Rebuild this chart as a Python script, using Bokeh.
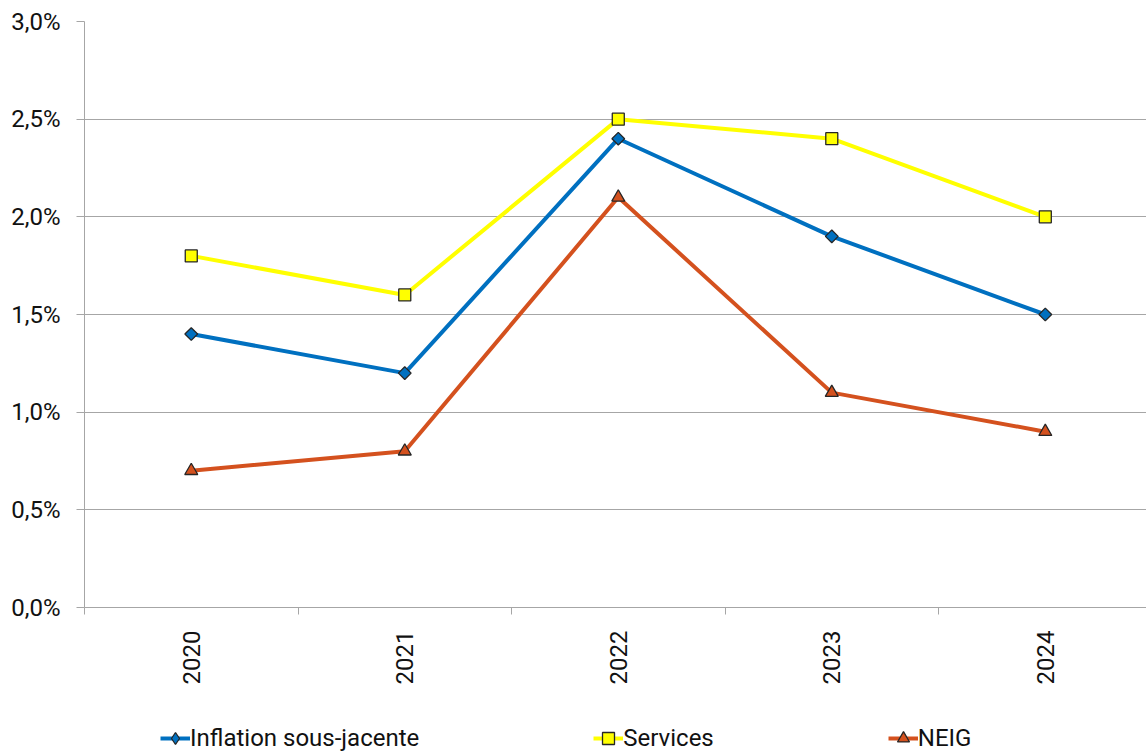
import numpy as np
from bokeh.plotting import figure
from bokeh.layouts import column
from bokeh.models import (FixedTicker, CustomJSTickFormatter, Legend, LegendItem, Range1d)
from bokeh.embed import file_html
from bokeh.resources import INLINE

years = ["2020", "2021", "2022", "2023", "2024"]
inflation = [1.4, 1.2, 2.4, 1.9, 1.5]
services = [1.8, 1.6, 2.5, 2.4, 2.0]
neig = [0.7, 0.8, 2.1, 1.1, 0.9]
y_ticks = [0.0, 0.5, 1.0, 1.5, 2.0, 2.5, 3.0]
series_names = ["Inflation sous-jacente", "Services", "NEIG"]

xs = list(range(len(years)))

W = 1146
LEG_H = 43
MAIN_H = 753 - LEG_H
FRAME_LEFT = 84

p = figure(width=W, height=MAIN_H, output_backend="svg", toolbar_location=None,
           x_range=Range1d(-0.5, 4.474), y_range=Range1d(0, 3.0),
           min_border_left=FRAME_LEFT, min_border_right=0, min_border_top=21,
           min_border_bottom=MAIN_H - 607)
p.outline_line_color = None
p.background_fill_color = "white"
p.border_fill_color = "white"

grid_col = "#a6a6a6"
p.xgrid.visible = False
p.ygrid.grid_line_color = grid_col
p.ygrid.grid_line_width = 1

FS = "24px"
TXT = "#111111"

# y axis
p.yaxis.ticker = FixedTicker(ticks=y_ticks)
p.yaxis.formatter = CustomJSTickFormatter(code="return tick.toFixed(1).replace('.', ',') + '%';")
p.yaxis.axis_line_color = grid_col
p.yaxis.major_tick_line_color = grid_col
p.yaxis.major_tick_out = 8
p.yaxis.major_tick_in = 0
p.yaxis.minor_tick_line_color = None
p.yaxis.major_label_standoff = 16
p.yaxis.major_label_text_font = "Roboto"
p.yaxis.major_label_text_font_size = FS
p.yaxis.major_label_text_color = TXT

# x axis
p.xaxis.ticker = FixedTicker(ticks=xs, minor_ticks=[i - 0.5 for i in range(len(years) + 1)])
p.xaxis.formatter = CustomJSTickFormatter(args=dict(labels=years),
                                          code="return labels[Math.round(tick)] || '';")
p.xaxis.axis_line_color = grid_col
p.xaxis.major_tick_out = 0
p.xaxis.major_tick_in = 0
p.xaxis.minor_tick_out = 7
p.xaxis.minor_tick_in = 0
p.xaxis.minor_tick_line_color = grid_col
p.xaxis.major_label_orientation = np.pi / 2
p.xaxis.major_label_standoff = 16
p.xaxis.major_label_text_font = "Roboto"
p.xaxis.major_label_text_font_size = FS
p.xaxis.major_label_text_color = TXT

blue = "#0070C0"
yellow = "#FFFF00"
orange = "#D4511E"
edge = "#262626"
LW = 4

styles = [
    dict(color=blue, marker="square", angle=np.pi / 4, size=9, leg_marker="diamond"),
    dict(color=yellow, marker="square", angle=0.0, size=12, leg_marker="square"),
    dict(color=orange, marker="triangle", angle=0.0, size=13, leg_marker="triangle"),
]
series = [inflation, services, neig]

for vals, st in zip(series, styles):
    p.line(xs, vals, line_color=st["color"], line_width=LW)
    p.scatter(xs, vals, marker=st["marker"], angle=st["angle"], size=st["size"],
              fill_color=st["color"], line_color=edge, line_width=1.3)

# legend row as a separate strip (its frame is aligned with the main frame)
lf = figure(width=W, height=LEG_H, output_backend="svg", toolbar_location=None,
            x_range=Range1d(-0.5, 4.474), y_range=Range1d(100, 101),
            min_border=0, min_border_left=FRAME_LEFT, min_border_right=0,
            min_border_top=0, min_border_bottom=0)
lf.axis.visible = False
lf.grid.visible = False
lf.outline_line_color = None
lf.background_fill_color = "white"
lf.border_fill_color = "white"

items = []
for name, vals, st in zip(series_names, series, styles):
    lr = lf.line(xs, vals, line_color=st["color"], line_width=LW)
    sr = lf.scatter(xs, vals, marker=st["leg_marker"], size=st["size"],
                    fill_color=st["color"], line_color=edge, line_width=1.3)
    items.append(LegendItem(label=name, renderers=[lr, sr]))

legend = Legend(items=items, orientation="horizontal", location=(160 - FRAME_LEFT, 0),
                spacing=174, glyph_width=30, glyph_height=30, label_standoff=0,
                label_text_font="Roboto", label_text_font_size=FS, label_text_color=TXT,
                padding=0, margin=0, border_line_alpha=0, background_fill_alpha=0)
lf.add_layout(legend, "center")

layout = column(p, lf, spacing=0)
open("out.html", "w").write(file_html(layout, INLINE))
